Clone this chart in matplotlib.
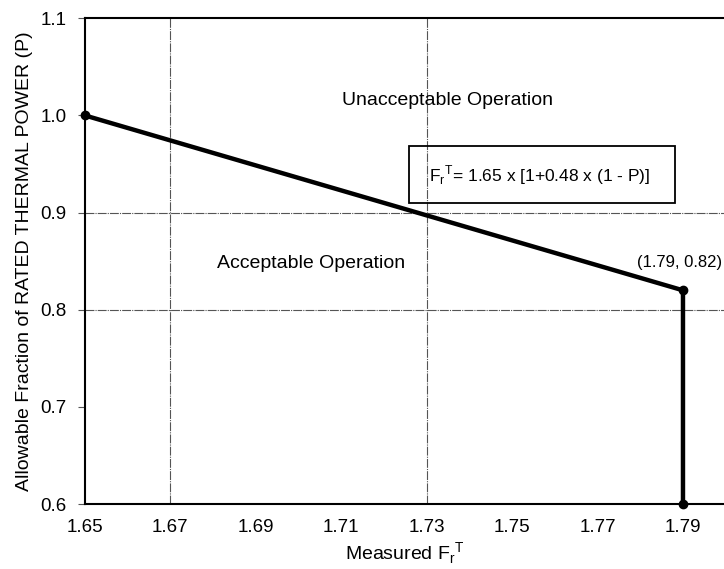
import matplotlib.pyplot as plt
import matplotlib.patches as patches

plt.rcParams['font.family'] = ['Liberation Sans', 'DejaVu Sans']

# limit curve
fq_x = [1.65, 1.79, 1.79]
power_y = [1.00, 0.82, 0.60]
x_ticks = [1.65, 1.67, 1.69, 1.71, 1.73, 1.75, 1.77, 1.79]
y_ticks = [0.6, 0.7, 0.8, 0.9, 1.0, 1.1]

fig = plt.figure(figsize=(7.24, 5.69), dpi=100)
ax = fig.add_axes([0.117, 0.114, 0.883, 0.854])

ax.set_xlim(1.65, 1.7996)
ax.set_ylim(0.6, 1.1)

# sparse grid like the original
for gx in [1.67, 1.73]:
    ax.axvline(gx, color='#555555', lw=0.8, ls=(0, (8, 1, 1, 1)), zorder=1)
for gy in [0.8, 0.9]:
    ax.axhline(gy, color='#555555', lw=0.8, ls=(0, (8, 1, 1, 1)), zorder=1)

ax.plot(fq_x, power_y, color='black', lw=3.2, solid_joinstyle='round', zorder=3)
ax.plot(fq_x, power_y, ls='none', marker='o', ms=6, color='black',
        zorder=4, clip_on=False)

ax.set_xticks(x_ticks)
ax.set_xticklabels(['%.2f' % v for v in x_ticks], fontsize=13.5)
ax.set_yticks(y_ticks)
ax.set_yticklabels(['%.1f' % v for v in y_ticks], fontsize=13.5)
ax.tick_params(axis='x', length=0, pad=11)
ax.tick_params(axis='y', length=5, direction='out', pad=8, color='#555555')

for s in ['top', 'left', 'bottom']:
    ax.spines[s].set_linewidth(1.5)
ax.spines['right'].set_visible(False)

ax.set_xlabel(r'Measured F$_\mathregular{r}$$^\mathregular{T}$', fontsize=14, labelpad=3)
ax.set_ylabel('Allowable Fraction of RATED THERMAL POWER (P)', fontsize=14, labelpad=5)

ax.text(1.7348, 1.0156, 'Unacceptable Operation', fontsize=14, ha='center', va='center')
ax.text(1.7029, 0.848, 'Acceptable Operation', fontsize=14, ha='center', va='center')
ax.text(1.7565, 0.9385,
        r'F$_\mathregular{r}$$^\mathregular{T}$= 1.65 x [1+0.48 x (1 - P)]',
        fontsize=12.5, ha='center', va='center')
box = patches.Rectangle((1.7259, 0.9097), 0.0623, 0.0586, fill=False,
                        ec='black', lw=1.3, zorder=2)
ax.add_patch(box)
ax.text(1.7891, 0.849, '(1.79, 0.82)', fontsize=12, ha='center', va='center')

fig.savefig('out.png', dpi=100)
